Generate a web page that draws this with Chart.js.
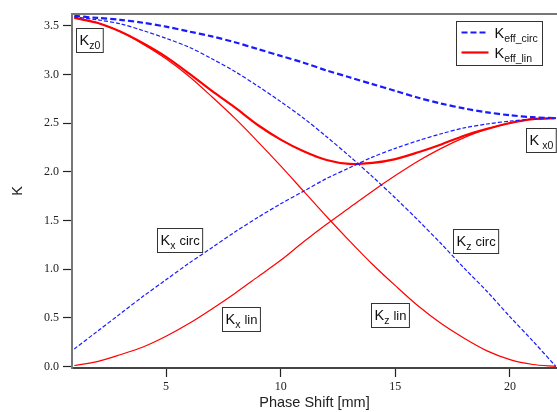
<!DOCTYPE html>
<html>
<head>
<meta charset="utf-8">
<script src="https://cdn.jsdelivr.net/npm/chart.js@4.4.1/dist/chart.umd.min.js"></script>
<style>
  html, body { margin: 0; padding: 0; background: #fff; }
  #wrap { width: 557px; height: 412px; }
</style>
</head>
<body>
<div id="wrap"><canvas id="chart-area" width="557" height="412"></canvas></div>
<script>
// phase shift [mm]
var phase = [1,2,3,4,5,6,7,8,9,10,11,12,13,14,15,16,17,18,19,20,21,22];

// circular mode
var keffCirc = [3.60,3.58,3.56,3.53,3.49,3.44,3.39,3.33,3.26,3.19,3.12,3.04,2.97,2.90,2.83,2.76,2.70,2.65,2.61,2.58,2.56,2.55];
var kzCirc   = [3.59,3.56,3.52,3.45,3.37,3.28,3.16,3.03,2.88,2.72,2.55,2.36,2.16,1.95,1.73,1.50,1.26,1.01,0.77,0.51,0.26,0.00];
var kxCirc   = [0.18,0.36,0.54,0.72,0.89,1.06,1.22,1.38,1.53,1.67,1.80,1.93,2.04,2.15,2.24,2.32,2.39,2.45,2.49,2.52,2.54,2.55];

// linear mode
var keffLin = [3.58,3.53,3.44,3.32,3.18,3.01,2.83,2.66,2.48,2.33,2.21,2.12,2.08,2.09,2.13,2.20,2.28,2.37,2.44,2.50,2.54,2.55];
var kzLin   = [3.58,3.53,3.44,3.31,3.16,2.98,2.77,2.55,2.31,2.06,1.80,1.54,1.29,1.05,0.83,0.62,0.44,0.29,0.16,0.07,0.02,0.00];
var kxLin   = [0.01,0.05,0.12,0.20,0.31,0.44,0.59,0.75,0.92,1.09,1.28,1.46,1.63,1.80,1.96,2.11,2.24,2.35,2.44,2.50,2.54,2.55];

var xTicks = [5, 10, 15, 20];
var yTicks = [0, 0.5, 1.0, 1.5, 2.0, 2.5, 3.0, 3.5];

var legendSubs = ['eff_circ', 'eff_lin'];

// in-plot labels: K + subscript + trailing text, anchored in data units
var labelSub  = ['z0', 'x0', 'x', 'z', 'x', 'z'];
var labelTail = ['', '', 'circ', 'circ', 'lin', 'lin'];
var labelX    = [1.66, 21.35, 5.61, 18.48, 8.27, 14.77];
var labelY    = [3.35, 2.33, 1.30, 1.29, 0.49, 0.53];

function pts(ys) {
  return ys.map(function(v, i) { return {x: phase[i], y: v}; });
}

var BLUE = '#1a1aff';
var RED = '#ff0000';

var topLine = {
  id: 'topLine',
  afterDraw: function(chart) {
    var a = chart.chartArea, ctx = chart.ctx;
    ctx.save();
    ctx.strokeStyle = '#777';
    ctx.lineWidth = 2;
    ctx.beginPath();
    ctx.moveTo(a.left - 1, a.top);
    ctx.lineTo(a.right, a.top);
    ctx.stroke();
    ctx.restore();
  }
};

function drawK(ctx, x, y, sub, tail, gap) {
  // returns width if x is null
  ctx.font = '14.5px "Liberation Sans", Arial, sans-serif';
  var w = ctx.measureText('K').width;
  if (x !== null) ctx.fillText('K', x, y);
  var cx = w + (gap || 0);
  ctx.font = '10.5px "Liberation Sans", Arial, sans-serif';
  if (x !== null) ctx.fillText(sub, x + cx, y + 4);
  cx += ctx.measureText(sub).width;
  if (tail) {
    ctx.font = '13px "Liberation Sans", Arial, sans-serif';
    cx += 4;
    if (x !== null) ctx.fillText(tail, x + cx, y);
    cx += ctx.measureText(tail).width;
  }
  return cx;
}

var labelBoxes = {
  id: 'labelBoxes',
  afterDatasetsDraw: function(chart) {
    var ctx = chart.ctx, xs = chart.scales.x, ys = chart.scales.y;
    ctx.save();
    ctx.textBaseline = 'alphabetic';
    ctx.textAlign = 'left';
    for (var i = 0; i < labelSub.length; i++) {
      var gap = labelSub[i] === 'x0' ? 3 : 0;
      var w = drawK(ctx, null, 0, labelSub[i], labelTail[i], gap);
      var cx = xs.getPixelForValue(labelX[i]);
      var cy = ys.getPixelForValue(labelY[i]);
      var bw = w + 6, bh = 24;
      var bx = Math.round(cx - bw / 2) + 0.5, by = Math.round(cy - bh / 2) + 0.5;
      ctx.fillStyle = '#fff';
      ctx.fillRect(bx, by, bw, bh);
      ctx.strokeStyle = '#333';
      ctx.lineWidth = 1;
      ctx.strokeRect(bx, by, bw, bh);
      ctx.fillStyle = '#111';
      drawK(ctx, bx + 3, by + 16, labelSub[i], labelTail[i], gap);
    }

    // legend
    var a = chart.chartArea;
    var lx = a.right - 100.5, ly = a.top + 7.5, lw = 86, lh = 44;
    ctx.fillStyle = '#fff';
    ctx.fillRect(lx, ly, lw, lh);
    ctx.strokeStyle = '#333';
    ctx.lineWidth = 1;
    ctx.strokeRect(lx, ly, lw, lh);
    var shown = chart.data.datasets.filter(function(d) { return d.inLegend; });
    shown.forEach(function(d, k) {
      var yy = ly + 11 + k * 20;
      ctx.save();
      ctx.strokeStyle = d.borderColor;
      ctx.lineWidth = d.borderWidth;
      ctx.setLineDash(d.borderDash || []);
      ctx.beginPath();
      ctx.moveTo(lx + 5, yy);
      ctx.lineTo(lx + 32, yy);
      ctx.stroke();
      ctx.restore();
      ctx.fillStyle = '#111';
      drawK(ctx, lx + 38, yy + 5, legendSubs[k], '', 0);
    });
    ctx.restore();
  }
};

var config = {
  type: 'line',
  data: {
    datasets: [
      { label: 'Kz circ', data: pts(kzCirc), borderColor: BLUE, borderWidth: 1.2, borderDash: [4, 2] },
      { label: 'Kx circ', data: pts(kxCirc), borderColor: BLUE, borderWidth: 1.2, borderDash: [4, 2] },
      { label: 'Kz lin', data: pts(kzLin), borderColor: RED, borderWidth: 1.2 },
      { label: 'Kx lin', data: pts(kxLin), borderColor: RED, borderWidth: 1.2 },
      { label: 'Keff_circ', data: pts(keffCirc), borderColor: BLUE, borderWidth: 2.2, borderDash: [6, 3], inLegend: true },
      { label: 'Keff_lin', data: pts(keffLin), borderColor: RED, borderWidth: 2.2, inLegend: true }
    ]
  },
  options: {
    responsive: false,
    animation: false,
    layout: { padding: { top: 14, right: 0, left: 0, bottom: 0 } },
    elements: {
      point: { radius: 0 },
      line: { tension: 0.3, fill: false }
    },
    plugins: {
      legend: { display: false },
      tooltip: { enabled: false }
    },
    scales: {
      x: {
        type: 'linear',
        min: 0.9,
        max: 22.05,
        afterFit: function(s) { s.height = 44; },
        afterBuildTicks: function(s) { s.ticks = xTicks.map(function(v) { return {value: v}; }); },
        border: { color: '#444', width: 2 },
        grid: { drawOnChartArea: false, tickLength: 9, tickColor: '#222', tickWidth: 1.2 },
        ticks: {
          padding: 3,
          color: '#222',
          maxRotation: 0,
          font: { family: '"Liberation Serif", "Times New Roman", serif', size: 12 },
          callback: function(v) { return String(v); }
        },
        title: {
          display: true,
          text: 'Phase Shift [mm]',
          color: '#222',
          padding: { top: 0, bottom: 0 },
          font: { family: '"Liberation Sans", Arial, sans-serif', size: 14.5 }
        }
      },
      y: {
        type: 'linear',
        min: -0.016,
        max: 3.62,
        afterFit: function(s) { s.width = 72; },
        afterBuildTicks: function(s) { s.ticks = yTicks.map(function(v) { return {value: v}; }); },
        border: { color: '#777', width: 2 },
        grid: { drawOnChartArea: false, tickLength: 9, tickColor: '#222', tickWidth: 1.2 },
        ticks: {
          padding: 4,
          color: '#222',
          font: { family: '"Liberation Serif", "Times New Roman", serif', size: 12 },
          callback: function(v) { return Number(v).toFixed(1); }
        },
        title: {
          display: true,
          text: 'K',
          color: '#222',
          padding: { top: 9, bottom: 0 },
          font: { family: '"Liberation Sans", Arial, sans-serif', size: 14.5 }
        }
      }
    }
  },
  plugins: [topLine, labelBoxes]
};

window.onload = function() {
  var ctx = document.getElementById('chart-area').getContext('2d');
  window.myChart = new Chart(ctx, config);
};
</script>
</body>
</html>
